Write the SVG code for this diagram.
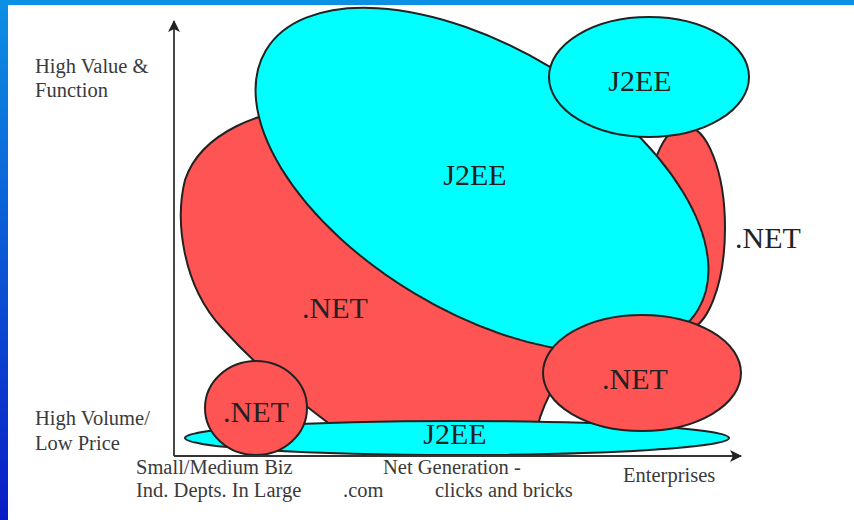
<svg xmlns="http://www.w3.org/2000/svg" width="854" height="520" viewBox="0 0 854 520">
<defs>
<linearGradient id="side" x1="0" y1="0" x2="0" y2="1">
<stop offset="0" stop-color="#0c90e4"/>
<stop offset="1" stop-color="#0a1cc6"/>
</linearGradient>
<marker id="arr" viewBox="0 0 12 12" refX="11" refY="6" markerWidth="12" markerHeight="12" markerUnits="userSpaceOnUse" orient="auto">
<path d="M0,0 L12,6 L0,12 L3,6 Z" fill="#222"/>
</marker>
<style>
.net{fill:#ff5454;stroke:#222;stroke-width:2}
.j2ee{fill:#00ffff;stroke:#222;stroke-width:2}
.lbl{font-family:'Liberation Serif','DejaVu Serif',serif;font-size:30px;fill:#222;text-anchor:middle}
.ax{font-family:'Liberation Serif','DejaVu Serif',serif;font-size:20.5px;fill:#3a3a3a}
.axis{stroke:#333;stroke-width:1.8;fill:none}
</style>
</defs>
<rect x="0" y="0" width="854" height="520" fill="#ffffff"/>
<rect x="0" y="0" width="854" height="5" fill="#0c90e4"/>
<rect x="0" y="0" width="8" height="520" fill="url(#side)"/>

<g id="net-large">
<path class="net" d="M330,108 C260,105 200,135 185,180 C175,220 182,285 222,328 C262,372 300,402 335,428 L537,428 C541,412 546,400 555,385 L600,330 L560,300 L400,150 Z"/>
</g>
<g id="net-right-crescent">
<ellipse class="net" cx="685" cy="228" rx="40" ry="102"/>
</g>
<g id="j2ee-large">
<ellipse class="j2ee" cx="482" cy="180" rx="252" ry="132" transform="rotate(31 482 180)"/>
<text class="lbl" x="475" y="185" font-family="Liberation Serif, DejaVu Serif, serif">J2EE</text>
</g>
<g id="j2ee-top">
<ellipse class="j2ee" cx="649" cy="77" rx="100" ry="60"/>
<text class="lbl" x="640" y="91" font-family="Liberation Serif, DejaVu Serif, serif">J2EE</text>
</g>
<g id="j2ee-bottom">
<ellipse class="j2ee" cx="457" cy="438" rx="272" ry="17"/>
<text class="lbl" x="455" y="444" font-family="Liberation Serif, DejaVu Serif, serif">J2EE</text>
</g>
<g id="net-small">
<ellipse class="net" cx="256" cy="408" rx="51" ry="47"/>
<text class="lbl" x="256" y="422" font-family="Liberation Serif, DejaVu Serif, serif">.NET</text>
</g>
<g id="net-enterprise">
<ellipse class="net" cx="642" cy="373" rx="99" ry="58"/>
<text class="lbl" x="635" y="389" font-family="Liberation Serif, DejaVu Serif, serif">.NET</text>
</g>
<g id="net-mid-label">
<text class="lbl" x="335" y="318" font-family="Liberation Serif, DejaVu Serif, serif">.NET</text>
</g>
<g id="net-right-label">
<text class="lbl" x="768" y="248" font-family="Liberation Serif, DejaVu Serif, serif">.NET</text>
</g>

<g id="connectors">
<line class="axis" x1="174" y1="456" x2="174" y2="21" marker-end="url(#arr)"/>
<line class="axis" x1="174" y1="456" x2="741" y2="456" marker-end="url(#arr)"/>
</g>

<g id="axis-labels" font-family="Liberation Serif, DejaVu Serif, serif">
<text class="ax" x="35" y="73">High Value &amp;</text>
<text class="ax" x="35" y="97">Function</text>
<text class="ax" x="35" y="425">High Volume/</text>
<text class="ax" x="35" y="450">Low Price</text>
<text class="ax" x="136" y="474">Small/Medium Biz</text>
<text class="ax" x="136" y="497">Ind. Depts. In Large</text>
<text class="ax" x="383" y="474">Net Generation -</text>
<text class="ax" x="343" y="497">.com</text>
<text class="ax" x="435" y="497">clicks and bricks</text>
<text class="ax" x="623" y="482">Enterprises</text>
</g>
</svg>
